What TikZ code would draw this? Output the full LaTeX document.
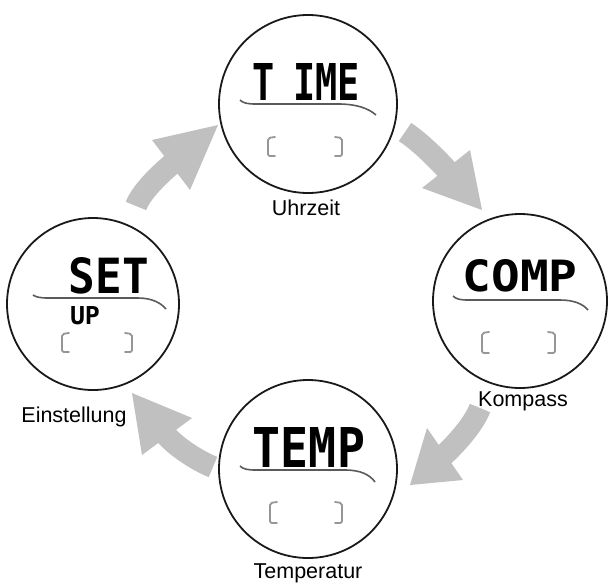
\documentclass[tikz,border=0pt]{standalone}
\usepackage{fontspec}
\setmainfont{Liberation Sans}
\newfontfamily\lcdfont{DejaVu Sans Mono}
\definecolor{arrowgray}{RGB}{192,192,192}
\definecolor{brkgray}{RGB}{150,150,150}
\definecolor{linegray}{RGB}{90,90,90}
\begin{document}
\begin{tikzpicture}[x=1pt,y=-1pt,
  dial/.style={circle, draw=black!90, line width=1.8pt, inner sep=0},
  lbl/.style={font=\fontsize{21.5}{24}\selectfont, anchor=base, inner sep=0},
  lcd/.style={inner sep=0, anchor=center, font=\lcdfont\bfseries},
  uline/.style={draw=linegray, line width=1.6pt},
  brk/.style={draw=brkgray, line width=1.8pt, line cap=round, rounded corners=2pt},
  shaft/.style={draw=arrowgray, line width=22pt},
  head/.style={fill=arrowgray},
]
\useasboundingbox (0,0) rectangle (612,584);

% arrows
\coordinate (a1t) at (405,132); \coordinate (a1b) at (448,171);
\draw[shaft] (a1t) .. controls (420,142) and (436,158) .. (a1b);
\fill[head] (470,150) -- (482,210) -- (422,188) -- cycle;

\coordinate (a2t) at (480,408); \coordinate (a2b) at (443,456);
\draw[shaft] (a2t) .. controls (474,424) and (456,444) .. (a2b);
\fill[head] (427,428) -- (410,485) -- (463,480) -- cycle;

\coordinate (a3t) at (213,467); \coordinate (a3b) at (165,434);
\draw[shaft] (a3t) .. controls (198,461) and (176,447) .. (a3b);
\fill[head] (192,418) -- (132,393) -- (142,455) -- cycle;

\coordinate (a4t) at (136,206); \coordinate (a4b) at (173,163);
\draw[shaft] (a4t) .. controls (141,192) and (160,174) .. (a4b);
\fill[head] (152,140) -- (218,125) -- (190,190) -- cycle;

% dials
\node[dial, minimum size=178pt] (time) at (308,104) {};
\node[dial, minimum size=174pt] (comp) at (520,301) {};
\node[dial, minimum size=172pt] (set) at (93,304) {};
\node[dial, minimum size=178pt] (temp) at (308,469) {};

% display texts
\node[lcd] (timetxt) at (306,82) {\resizebox{107pt}{37pt}{T\hspace{0.5em}IME}};
\node[lcd] (comptxt) at (520,276) {\resizebox{115pt}{32pt}{COMP}};
\node[lcd] (settxt) at (109,276) {\resizebox{80pt}{36pt}{SET}};
\node[lcd] (uptxt) at (85,316) {\resizebox{30pt}{18pt}{UP}};
\node[lcd] (temptxt) at (309,447) {\resizebox{112pt}{40pt}{TEMP}};

% underlines
\draw[uline] (240,100) .. controls (243,103) and (247,104) .. (256,104) -- (338,104) .. controls (356,104) and (368,108) .. (376,115);
\draw[uline] (453,296) .. controls (456,299) and (460,300) .. (468,300) -- (560,300) .. controls (574,300) and (583,304) .. (588,310);
\draw[uline] (33,295) .. controls (36,297) and (40,298) .. (48,298) -- (138,298) .. controls (152,298) and (161,303) .. (166,309);
\draw[uline] (240,466) .. controls (243,469) and (247,470) .. (256,470) -- (345,470) .. controls (361,470) and (370,475) .. (375,482);

% brackets
\draw[brk] (275,137) -- (268,138) -- (268,156) -- (275,156);
\draw[brk] (335,137) -- (342,138) -- (342,156) -- (335,156);
\draw[brk] (489,332) -- (482,333) -- (482,353) -- (489,353);
\draw[brk] (548,332) -- (555,333) -- (555,353) -- (548,353);
\draw[brk] (69,333) -- (62,334) -- (62,352) -- (69,352);
\draw[brk] (125,333) -- (132,334) -- (132,352) -- (125,352);
\draw[brk] (277,502) -- (270,503) -- (270,523) -- (277,523);
\draw[brk] (335,502) -- (342,503) -- (342,523) -- (335,523);

% labels
\node[lbl] (uhr) at (306,215) {Uhrzeit};
\node[lbl] (kom) at (523,406) {Kompass};
\node[lbl] (ein) at (74,422) {Einstellung};
\node[lbl] (tem) at (308,578) {Temperatur};
\end{tikzpicture}
\end{document}
